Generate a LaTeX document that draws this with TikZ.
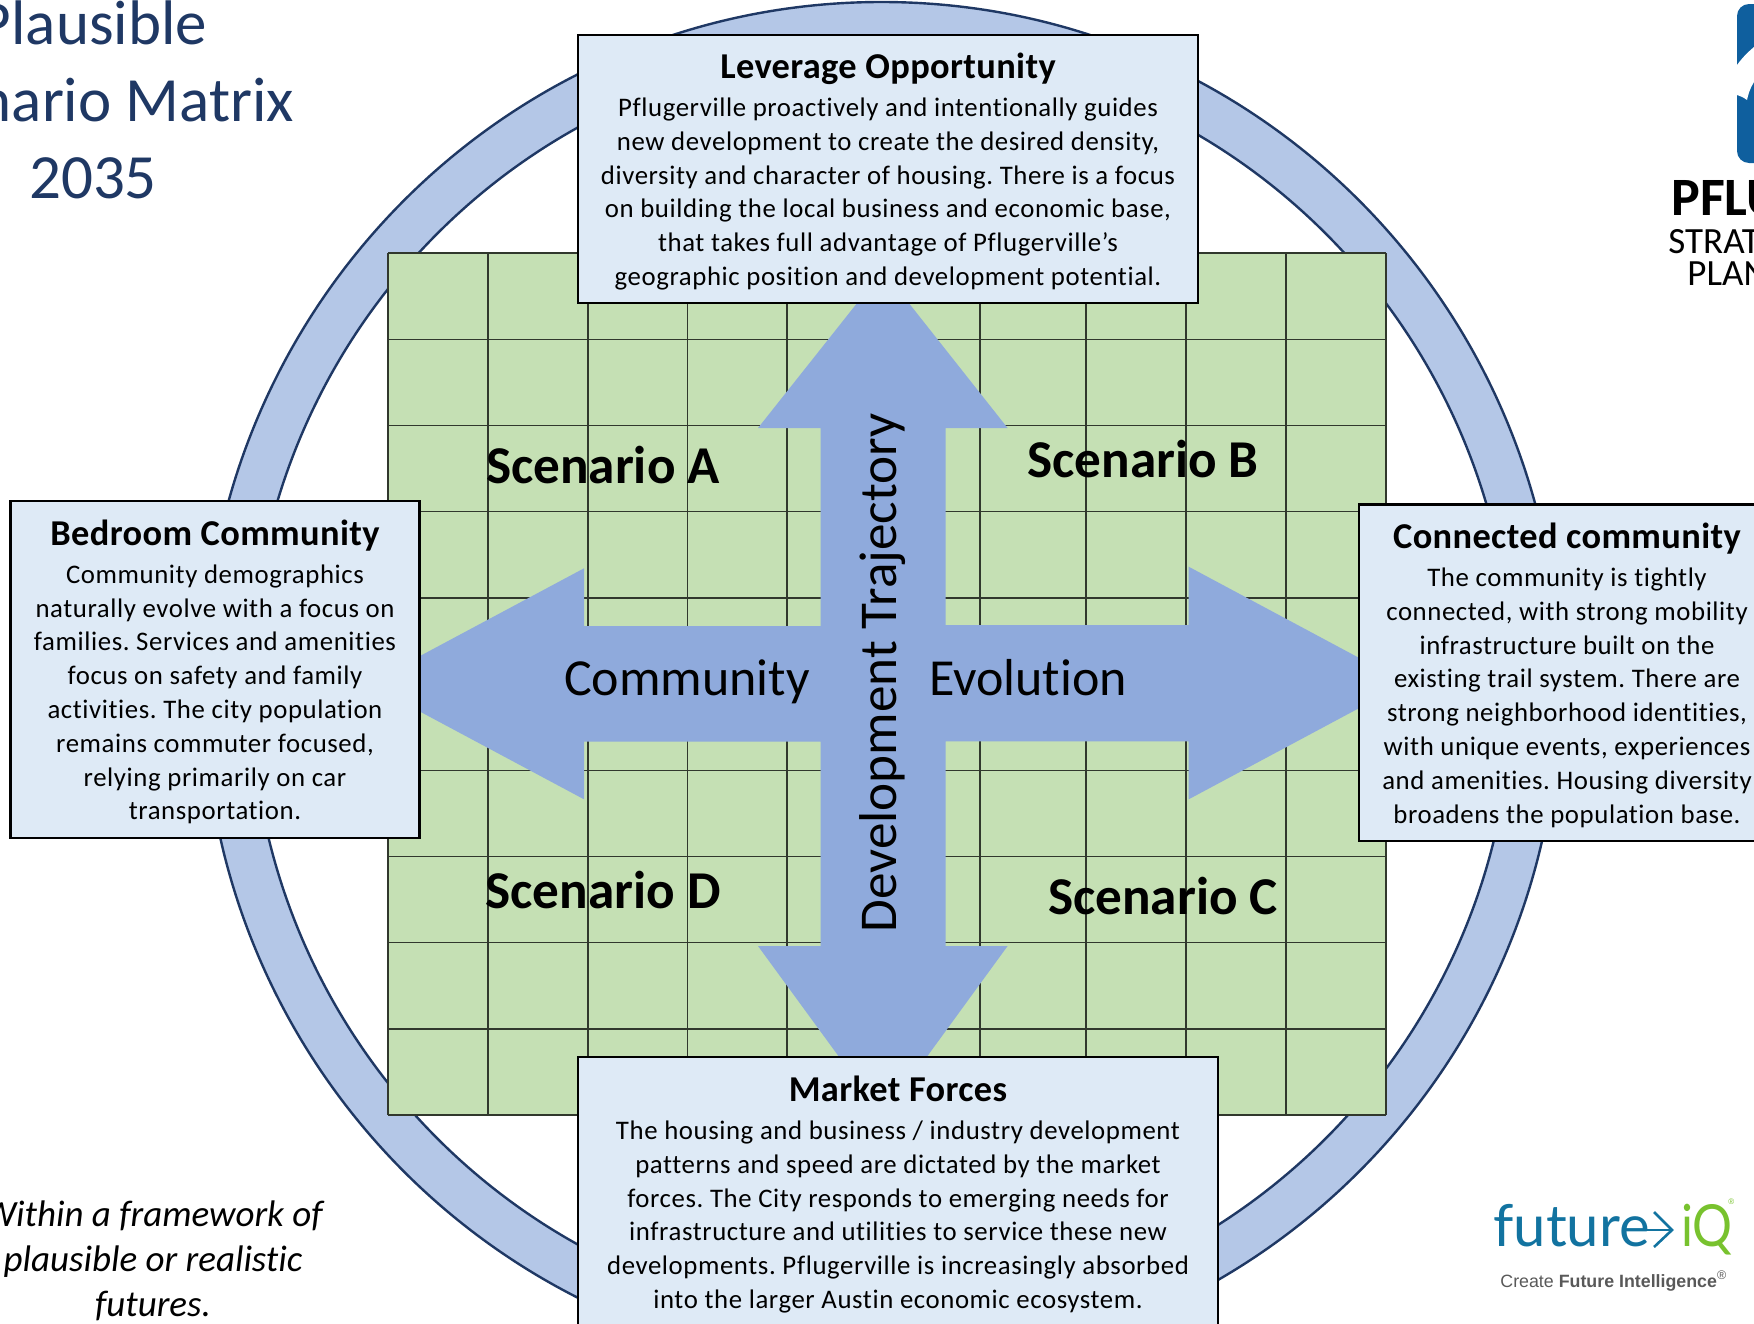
\documentclass[tikz,border=0pt]{standalone}
\usepackage{fontspec}
\setmainfont[Ligatures=CommonOff]{Carlito}
\newfontfamily\logofont{Liberation Sans}
\newfontfamily\iqfont{Lato}
\usetikzlibrary{positioning}
\definecolor{ringblue}{HTML}{B4C7E7}
\definecolor{ringline}{HTML}{1F3864}
\definecolor{cellgreen}{HTML}{C5E0B4}
\definecolor{cardblue}{HTML}{DEEAF6}
\definecolor{crossblue}{HTML}{8FAADC}
\definecolor{logoblue}{HTML}{0F5F9E}
\definecolor{iqteal}{HTML}{1273A0}
\definecolor{iqgreen}{HTML}{78C22E}
\definecolor{taggray}{HTML}{595959}
\newcommand{\cardhead}[1]{\rule{0pt}{15.3pt}{\fontsize{18.2}{17}\selectfont\bfseries\addfontfeature{LetterSpace=1}#1}\\[2pt]}

\begin{document}
\frenchspacing
\begin{tikzpicture}[
x=0.5pt,y=-0.5pt,
ring/.style={
  fill=ringblue,
  draw=ringline,
  line width=1.2pt,
  even odd rule
  },
cell/.style={
  draw=black!75!cellgreen,
  line width=0.7pt
  },
card/.style={
  draw=black,
  fill=cardblue,
  line width=1.2pt,
  align=center,
  inner sep=0pt,
  font=\fontsize{13.4}{16.9}\selectfont\addfontfeature{LetterSpace=2.2}
  },
matrixlabel/.style={
  font=\fontsize{26}{30}\selectfont
  },
scenario/.style={
  font=\fontsize{26.6}{30}\selectfont\bfseries
  }
]
\useasboundingbox (0,0) rectangle (1754,1323);
\clip (0,0) rectangle (1754,1323);

\path[ring] (881.5,686) ellipse[x radius=339pt,y radius=342pt] (881.5,686) ellipse[x radius=315.5pt,y radius=318.5pt];

\fill[cellgreen] (388,253) rectangle (1386,1115);
\foreach \gx in {388,488,588,687.5,787,980,1086,1186,1286,1386}
  \draw[cell] (\gx,253) -- (\gx,1115);
\foreach \gy in {253,339.2,425.4,511.6,597.8,684,770.2,856.4,942.6,1028.8,1115}
  \draw[cell] (388,\gy) -- (1386,\gy);

\fill[crossblue] (883,270.4) -- (1007.6,428) -- (945.5,428) -- (945.5,625)
  -- (1188.7,625) -- (1188.7,566.7) -- (1406,683) -- (1188.7,799.3) -- (1188.7,741.3)
  -- (945.5,741.3) -- (945.5,946) -- (1007.6,946) -- (883,1117) -- (758,946)
  -- (820.5,946) -- (820.5,741.7) -- (584,741.7) -- (584,799.3) -- (368,683.8)
  -- (584,568.3) -- (584,626) -- (820.5,626) -- (820.5,428) -- (758,428) -- cycle;

\node[matrixlabel,anchor=base] (community) at (687,695) {Community};
\node[matrixlabel,anchor=base] (evolution) at (1028,695) {Evolution};
\node[matrixlabel,rotate=90,font=\fontsize{26.6}{30}\selectfont] (trajectory) at (882.6,673) {Development Trajectory};
\node[scenario] (scenA) at (603,465) {Scenario A};
\node[scenario] (scenB) at (1143,459) {Scenario B};
\node[scenario] (scenD) at (603,890.5) {Scenario D};
\node[scenario] (scenC) at (1163,896) {Scenario C};

\node[card,minimum width=310pt,minimum height=134.2pt] (leverage) at (888,169) {
\cardhead{Leverage Opportunity}
Pflugerville proactively and intentionally guides\\
new development to create the desired density,\\
diversity and character of housing. There is a focus\\
on building the local business and economic base,\\
that takes full advantage of Pflugerville’s\\
geographic position and development potential.};
\node[card,minimum width=204.4pt,minimum height=168.5pt] (bedroom) at (215,669.5) {
\cardhead{Bedroom Community}
Community demographics\\
naturally evolve with a focus on\\
families. Services and amenities\\
focus on safety and family\\
activities. The city population\\
remains commuter focused,\\
relying primarily on car\\
transportation.};
\node[card,minimum width=208pt,minimum height=168.3pt] (connected) at (1567,672.8) {
\cardhead{Connected community}
The community is tightly\\
connected, with strong mobility\\
infrastructure built on the\\
existing trail system. There are\\
strong neighborhood identities,\\
with unique events, experiences\\
and amenities. Housing diversity\\
broadens the population base.};
\node[card,minimum width=320pt,minimum height=135pt] (market) at (898,1192) {
\cardhead{Market Forces}
The housing and business / industry development\\
patterns and speed are dictated by the market\\
forces. The City responds to emerging needs for\\
infrastructure and utilities to service these new\\
developments. Pflugerville is increasingly absorbed\\
into the larger Austin economic ecosystem.};

\node[text=ringline,align=center,font=\fontsize{31.5}{38.6}\selectfont] (title) at (93,100)
  {Plausible\\Scenario Matrix\\2035};
\node[align=center,font=\fontsize{18.5}{22.5}\selectfont\itshape] (framework) at (153,1261)
  {Within a framework of\\plausible or realistic\\futures.};

\fill[logoblue,rounded corners=6pt] (1737,4) rectangle (1790,163);
\fill[white] (1737,65) .. controls (1742,58) and (1748,52) .. (1754,47) -- (1754,82)
  .. controls (1750,88) and (1748,95) .. (1747,100) .. controls (1743,97) and (1740,96) .. (1737,95) -- cycle;
\node[anchor=base west,inner sep=0pt,font=\fontsize{27}{27}\selectfont\bfseries] (pflu) at (1671,215) {PFLU};
\node[anchor=base west,inner sep=0pt,font=\fontsize{18.5}{19}\selectfont] (strat) at (1668,253) {STRAT};
\node[anchor=base west,inner sep=0pt,font=\fontsize{18.5}{19}\selectfont] (plan) at (1687,285) {PLAN};

\node[anchor=base west,inner sep=0pt,text=iqteal,font=\iqfont\fontsize{29}{30}\selectfont] (future) at (1493,1246) {future};
\coordinate (iqstart) at (1628,1230);
\coordinate (iqend) at (1672,1230);
\draw[iqteal,line width=1.3pt] (iqstart) -- (iqend);
\draw[iqteal,line width=1.3pt] (1654,1212) -- (iqend) -- (1654,1247);
\node[anchor=base west,inner sep=0pt,text=iqgreen,xscale=0.86,font=\iqfont\fontsize{29}{30}\selectfont] (iq) at (1681,1246) {iQ};
\node[anchor=base west,inner sep=0pt,text=iqgreen,font=\logofont\fontsize{4}{4}\selectfont] (iqmark) at (1728,1204) {®};
\node[anchor=base west,inner sep=0pt,text=taggray,font=\logofont\fontsize{8.9}{10}\selectfont] (tagline) at (1500,1287)
  {Create \textbf{Future Intelligence}\textsuperscript{®}};
\end{tikzpicture}
\end{document}
